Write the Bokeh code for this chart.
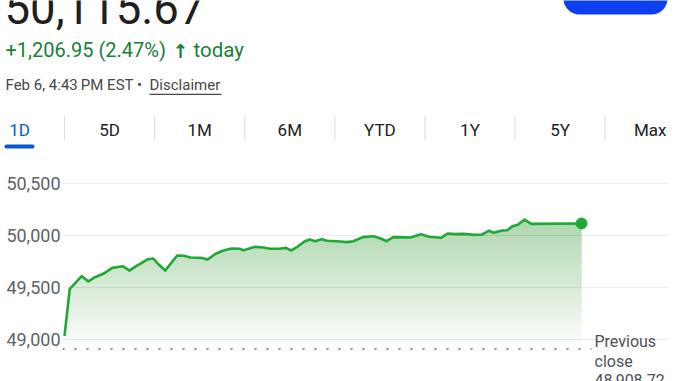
import numpy as np
from bokeh.plotting import figure
from bokeh.layouts import column
from bokeh.models import Label, BoxAnnotation, FixedTicker, NumeralTickFormatter, Range1d
from bokeh.embed import file_html
from bokeh.resources import INLINE

# ---------------- data ----------------
minutes = [0, 4, 13, 18, 23, 30, 36, 44, 49, 54,
           57, 63, 67, 71, 76, 85, 90, 95, 103, 108,
           114, 120, 126, 132, 135, 144, 150, 155, 162, 167,
           171, 175, 181, 185, 189, 194, 198, 208, 213, 218,
           225, 233, 238, 243, 248, 261, 269, 275, 284, 289,
           295, 301, 309, 315, 320, 324, 330, 334, 338, 342,
           347, 352, 390]
values = [49035, 49487, 49609, 49558, 49599, 49637, 49689, 49705, 49663, 49705,
          49728, 49772, 49779, 49721, 49663, 49808, 49805, 49788, 49785, 49769,
          49824, 49856, 49875, 49872, 49859, 49891, 49885, 49872, 49872, 49881,
          49856, 49885, 49942, 49962, 49945, 49965, 49949, 49942, 49936, 49945,
          49984, 49993, 49974, 49945, 49984, 49981, 50013, 49988, 49978, 50019,
          50013, 50016, 50006, 50010, 50045, 50026, 50048, 50051, 50090, 50103,
          50154, 50112, 50115.67]
prev_close = 48908.72
change_text = "+1,206.95 (2.47%)"
timestamp_text = "Feb 6, 4:43\u2009PM EST \u2022"
y_ticks = [49000, 49500, 50000, 50500]
tabs = ["1D", "5D", "1M", "6M", "YTD", "1Y", "5Y", "Max"]
assert len(minutes) == len(values)

GREEN = "#1fa834"
FONT = "Roboto"
W = 678
HEAD_H = 165
CHART_H = 381 - HEAD_H
SHIFT = 0.34   # baseline correction (em)

# ---------------- header figure (pixel coordinates) ----------------
head = figure(width=W, height=HEAD_H, x_range=Range1d(0, W), y_range=Range1d(HEAD_H, 0),
              output_backend="svg", toolbar_location=None, x_axis_location=None,
              y_axis_location=None, min_border=0)
head.outline_line_color = None
head.grid.visible = False
head.frame_align = False

def lab(fig, px, py, text, size, color, align="left", style="normal", font=FONT):
    fig.add_layout(Label(x=px, y=py - SHIFT * size, text=text, text_font=font,
                         text_font_size=f"{size}px", text_color=color, text_align=align,
                         text_baseline="alphabetic", text_font_style=style))

lab(head, 4, 22, f"{values[-1]:,.2f}", 45.5, "#1f1f1f")
lab(head, 5, 56.5, change_text, 20, "#188038")
lab(head, 172, 56.5, "\u2191", 19, "#188038", style="bold", font="DejaVu Sans")
lab(head, 193, 56.5, "today", 20.5, "#188038")
lab(head, 5, 90, timestamp_text, 15, "#474747")
lab(head, 149, 90, "Disclaimer", 15, "#474747")
head.add_layout(BoxAnnotation(left=149, right=221, top=93.3, bottom=94.5,
                              fill_color="#474747", fill_alpha=1, line_color=None))

# follow button (cropped at top)
head.add_layout(BoxAnnotation(left=563, right=667, top=-30, bottom=14,
                              fill_color="#0b3ff0", fill_alpha=1, line_color=None, border_radius=16))

# tabs
TAB0, TAB_STEP = 19, 90.1
for i, name in enumerate(tabs):
    cx = TAB0 + i * TAB_STEP
    lab(head, cx, 135, name, 17, "#0b57d0" if i == 0 else "#202124", align="center")
    if i > 0:
        sep = cx - TAB_STEP / 2
        head.add_layout(BoxAnnotation(left=sep - 0.5, right=sep + 0.5, top=115, bottom=140,
                                      fill_color="#dadce0", fill_alpha=1, line_color=None))
head.add_layout(BoxAnnotation(left=4, right=34, top=144, bottom=148,
                              fill_color="#0b57d0", fill_alpha=1, line_color=None, border_radius=2))

# ---------------- chart figure ----------------
FL, FR = 62, 668                 # frame left/right in px
X0_PX, X1_PX = 64, 581           # session open/close in px
T0, T1 = 0, 390
sx = (X1_PX - X0_PX) / (T1 - T0)
x_start = T0 - (X0_PX - FL) / sx
x_end = x_start + (FR - FL) / sx
sy = (339 - 183) / 1500.0
y_top = 50500 + (183 - HEAD_H) / sy
y_bot = y_top - CHART_H / sy

def X(px):
    return x_start + (px - FL) / sx

def Y(py):
    return y_top - (py - HEAD_H) / sy

p = figure(width=W, height=CHART_H, x_range=Range1d(x_start, x_end), y_range=Range1d(y_bot, y_top),
           output_backend="svg", toolbar_location=None, x_axis_location=None,
           min_border_left=FL, min_border_right=W - FR, min_border_top=0, min_border_bottom=0)
p.outline_line_color = None
p.frame_align = False
p.xgrid.visible = False
p.ygrid.grid_line_color = "#ececec"
p.ygrid.grid_line_width = 1
ax = p.yaxis[0]
ax.ticker = FixedTicker(ticks=y_ticks)
ax.formatter = NumeralTickFormatter(format="0,0")
ax.axis_line_color = None
ax.major_tick_line_color = None
ax.minor_tick_line_color = None
ax.major_tick_out = 0
ax.major_tick_in = 0
ax.major_label_standoff = 2
ax.major_label_text_font = FONT
ax.major_label_text_font_size = "18px"
ax.major_label_text_color = "#5f6368"

# gradient area
t = np.array(minutes, dtype=float)
v = np.array(values, dtype=float)
levels = np.linspace(prev_close, v.max(), 41)[:-1]
for L in levels:
    p.varea(x=t, y1=np.full_like(v, L), y2=np.maximum(v, L), fill_color=GREEN, fill_alpha=0.0072)

# previous close dotted line
p.line([x_start, X(591)], [prev_close, prev_close], line_color="#5f6368", line_width=1.6,
       line_dash="2 10")

# price line
p.line(t, v, line_color=GREEN, line_width=2.6, line_join="round")
p.scatter([t[-1]], [v[-1]], size=11, color=GREEN)

# previous close label
for k, txt in enumerate(["Previous", "close", f"{prev_close:,.2f}"]):
    size = 16
    p.add_layout(Label(x=X(594), y=Y(346.7 + 19.3 * k - SHIFT * size), text=txt, text_font=FONT,
                       text_font_size=f"{size}px", text_color="#4d5156", text_baseline="alphabetic"))

layout = column(head, p, spacing=0)
open("out.html", "w").write(file_html(layout, INLINE))
